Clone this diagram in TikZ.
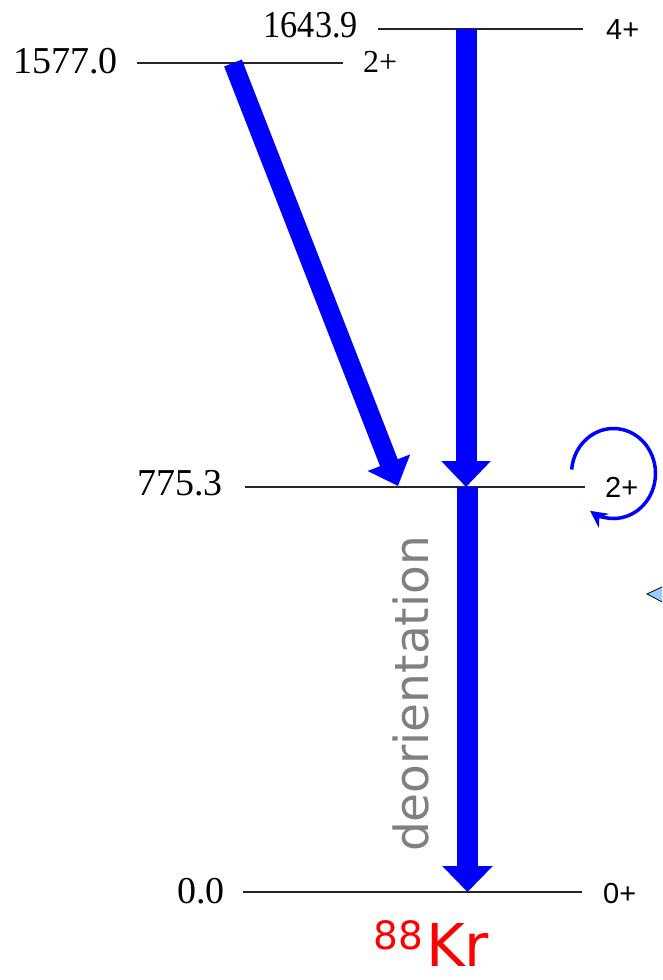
\documentclass[tikz,border=0pt]{standalone}
\usepackage{fontspec}
\setmainfont{Liberation Serif}
\newfontfamily\lsans{Liberation Sans}
\newfontfamily\dejavu{DejaVu Sans}
\usetikzlibrary{arrows.meta,calc}
\definecolor{tblue}{RGB}{0,0,255}
\definecolor{lblue}{RGB}{153,204,255}
\begin{document}
\begin{tikzpicture}[x=1pt,y=-1pt,
  levelline/.style={line width=1.6pt, draw=black!85},
  num/.style={anchor=base east, inner sep=0pt, font=\fontsize{38}{40}\selectfont},
  spinserif/.style={anchor=base west, inner sep=0pt, font=\fontsize{32}{34}\selectfont},
  spinsans/.style={anchor=base west, inner sep=0pt, font=\lsans\fontsize{29}{30}\selectfont},
  gam/.style={draw=tblue, line width=#1, line cap=butt},
]
\clip (0,0) rectangle (662,980);
% level end points
\coordinate (L1s) at (137,63);  \coordinate (L1e) at (343,63);
\coordinate (L2s) at (378,29);  \coordinate (L2e) at (583,29);
\coordinate (L3s) at (245,487); \coordinate (L3e) at (585,487);
\coordinate (L4s) at (243,892); \coordinate (L4e) at (582,892);
\draw[levelline] (L1s) -- (L1e);
\draw[levelline] (L2s) -- (L2e);
\draw[levelline] (L3s) -- (L3e);
\draw[levelline] (L4s) -- (L4e);
% energies
\node[num] (e1) at ($(L1s)+(-19,10)$) {1577.0};
\node[num, xscale=0.9] (e2) at ($(L2s)+(-20,8)$) {1643.9};
\node[num] (e3) at ($(L3s)+(-22,8)$) {775.3};
\node[num] (e4) at ($(L4s)+(-18,11)$) {0.0};
% spins
\node[spinserif] (s1) at ($(L1e)+(20,9)$) {2+};
\node[spinsans] (s2) at ($(L2e)+(23,10)$) {4+};
\node[spinsans] (s3) at ($(L3e)+(20,10)$) {2+};
\node[spinsans] (s4) at ($(L4e)+(21,11)$) {0+};
% gamma transitions
\coordinate (g1s) at (233,63);  \coordinate (g1e) at (398,486);
\coordinate (g2s) at (466,29);  \coordinate (g2e) at (466,487);
\coordinate (g3s) at (467.5,487); \coordinate (g3e) at (467.5,892);
\draw[gam=19pt, -{Triangle[length=25pt,width=44pt]}] (g1s) -- (g1e);
\draw[gam=21pt, -{Triangle[length=26pt,width=48pt]}] (g2s) -- (g2e);
\draw[gam=21pt, -{Triangle[length=26pt,width=49pt]}] (g3s) -- (g3e);
% reorientation loop round the 2+ state
\coordinate (lc) at (613.5,473.5);
\draw[draw=tblue, line width=3.5pt, -{Stealth[length=17pt,width=17pt]}]
  ($(lc)+(185:42 and 45)$) arc[start angle=185, end angle=484, x radius=42, y radius=45];
% label
\node[rotate=90, anchor=base, inner sep=0pt, text=black!50,
      font=\dejavu\fontsize{47}{50}\selectfont] (deo) at (428,694) {deorientation};
% nucleus
\node[anchor=base west, inner sep=0pt, text=red, font=\dejavu\fontsize{39}{40}\selectfont] (mass) at (373,949) {88};
\node[anchor=base west, inner sep=0pt, text=red, font=\dejavu\fontsize{59}{60}\selectfont] (kr) at (426,966) {Kr};
% partially visible pointer at the right edge
\draw[fill=lblue, draw=black, line width=0.8pt] (647,594) -- (700,569) -- (700,622) -- cycle;
\end{tikzpicture}
\end{document}
